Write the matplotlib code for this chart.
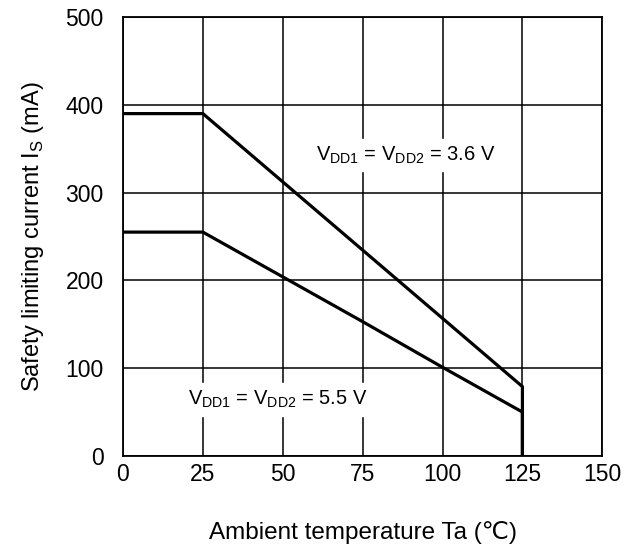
import matplotlib.pyplot as plt

plt.rcParams['font.family'] = ['Liberation Sans', 'DejaVu Sans']
plt.rcParams['mathtext.fontset'] = 'custom'
plt.rcParams['mathtext.rm'] = 'Liberation Sans'

# 讀圖估計的數據
temp_36 = [0, 25, 125, 125]
curr_36 = [390, 390, 79, 0]
temp_55 = [0, 25, 50, 75, 100, 125, 125]
curr_55 = [255, 255, 204, 153, 101, 50, 0]
xticks = [0, 25, 50, 75, 100, 125, 150]
yticks = [0, 100, 200, 300, 400, 500]

fig = plt.figure(figsize=(6.34, 5.5), dpi=100)
ax = fig.add_axes([0.194, 0.171, 0.756, 0.798])

ax.plot(temp_36, curr_36, color='black', lw=2.3, zorder=3)
ax.plot(temp_55, curr_55, color='black', lw=2.3, zorder=3)

ax.set_xlim(0, 150)
ax.set_ylim(0, 500)
ax.set_xticks(xticks)
ax.set_yticks(yticks)
ax.grid(True, color='black', lw=1.1)
ax.tick_params(length=0, labelsize=16.5)
ax.tick_params(axis='x', pad=5)
ax.tick_params(axis='y', pad=14)
for s in ax.spines.values():
    s.set_linewidth(1.3)

ax.text(88.6, 343, r'V$_{\mathrm{DD1}}$ = V$_{\mathrm{DD2}}$ = 3.6 V', fontsize=14.5,
        ha='center', va='center', backgroundcolor='white', zorder=4)
ax.text(48.5, 64, r'V$_{\mathrm{DD1}}$ = V$_{\mathrm{DD2}}$ = 5.5 V', fontsize=14.5,
        ha='center', va='center', backgroundcolor='white', zorder=2)

ax.set_xlabel('Ambient temperature Ta (℃)', fontsize=17.5, labelpad=25)
ax.set_ylabel(r'Safety limiting current I$_{\mathrm{S}}$ (mA)', fontsize=17, labelpad=14)

fig.savefig('out.png', dpi=100)
